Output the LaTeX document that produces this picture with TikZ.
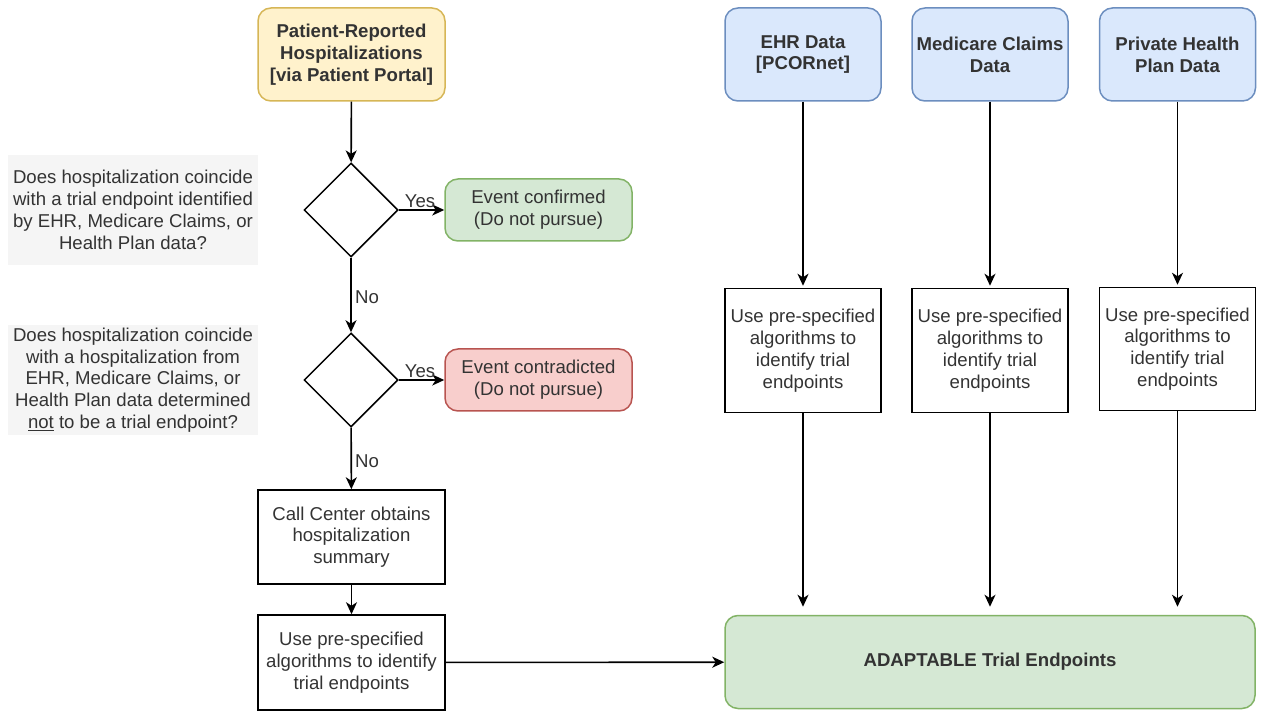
\documentclass[tikz,border=0pt]{standalone}
\usepackage{fontspec}
\setmainfont{Liberation Sans}
\usetikzlibrary{shapes.geometric,arrows.meta}
\definecolor{yelfill}{HTML}{FFF2CC}\definecolor{yeldraw}{HTML}{D6B656}
\definecolor{grnfill}{HTML}{D5E8D4}\definecolor{grndraw}{HTML}{82B366}
\definecolor{redfill}{HTML}{F8CECC}\definecolor{reddraw}{HTML}{B85450}
\definecolor{blufill}{HTML}{DAE8FC}\definecolor{bludraw}{HTML}{6C8EBF}
\definecolor{grayfill}{HTML}{F5F5F5}\definecolor{txt}{HTML}{333333}
\newcommand{\diafont}{\fontsize{18.6}{21.8}\selectfont}
\tikzset{
  base/.style={font=\diafont, text=txt, align=center, inner sep=0pt, line width=1.5pt},
  rbox/.style={base, draw, rounded corners=13pt, minimum width=#1},
  yelbox/.style={rbox=187pt, minimum height=93pt, fill=yelfill, draw=yeldraw, font=\diafont\bfseries},
  blubox/.style={rbox=156pt, minimum height=93pt, fill=blufill, draw=bludraw, font=\diafont\bfseries},
  grnbox/.style={rbox=187pt, minimum height=62pt, fill=grnfill, draw=grndraw},
  redbox/.style={rbox=187pt, minimum height=62pt, fill=redfill, draw=reddraw},
  plainbox/.style={base, draw=black, minimum width=#1},
  question/.style={base, fill=grayfill, minimum width=250pt, minimum height=110pt},
  decision/.style={base, draw=black, shape=diamond, minimum width=94pt, minimum height=94pt},
  arr/.style={-{Stealth[length=12pt,width=11pt,inset=3.5pt]}, line width=1.6pt, black},
  lbl/.style={font=\diafont, text=txt, inner sep=0pt}
}
\begin{document}
\begin{tikzpicture}[x=1pt,y=-1pt]
\useasboundingbox (0,0) rectangle (1262,711);
% left column
\node[yelbox] (pat) at (351.5,54.5) {Patient-Reported\\Hospitalizations\\{[}via Patient Portal{]}};
\node[decision] (d1) at (351,210) {};
\node[question] (q1) at (133,210) {Does hospitalization coincide\\with a trial endpoint identified\\by EHR, Medicare Claims, or\\Health Plan data?};
\node[grnbox] (conf) at (538.5,210) {Event confirmed\\(Do not pursue)};
\node[decision] (d2) at (351,380) {};
\node[question] (q2) at (133,380) {Does hospitalization coincide\\with a hospitalization from\\EHR, Medicare Claims, or\\Health Plan data determined\\\underline{not} to be a trial endpoint?};
\node[redbox] (contr) at (538.5,380) {Event contradicted\\(Do not pursue)};
\node[plainbox=187pt, minimum height=94pt] (call) at (351.5,537) {Call Center obtains\\hospitalization\\summary};
\node[plainbox=187pt, minimum height=95pt] (usel) at (351.5,662.5) {Use pre-specified\\algorithms to identify\\trial endpoints};
% right side
\node[blubox] (ehr) at (803,54.5) {EHR Data\\{[}PCORnet{]}};
\node[blubox] (med) at (990,54.5) {Medicare Claims\\Data};
\node[blubox] (priv) at (1177.5,54.5) {Private Health\\Plan Data};
\node[plainbox=156pt, minimum height=124pt] (use1) at (803,350.5) {Use pre-specified\\algorithms to\\identify trial\\endpoints};
\node[plainbox=156pt, minimum height=124pt] (use2) at (990,350.5) {Use pre-specified\\algorithms to\\identify trial\\endpoints};
\node[plainbox=156pt, minimum height=123pt] (use3) at (1177.5,349) {Use pre-specified\\algorithms to\\identify trial\\endpoints};
\node[rbox=530pt, minimum height=93pt, fill=grnfill, draw=grndraw, font=\diafont\bfseries] (adapt) at (990,662) {ADAPTABLE Trial Endpoints};
% connectors
\draw[arr] (pat) -- (d1);
\draw[arr] (d1) -- (conf);
\node[lbl] (yes1) at (420,201) {Yes};
\draw[arr] (d1) -- (d2);
\node[lbl, anchor=west] (no1) at (355,297) {No};
\draw[arr] (d2) -- (contr);
\node[lbl] (yes2) at (420,371) {Yes};
\draw[arr] (d2) -- (call);
\node[lbl, anchor=west] (no2) at (355,461) {No};
\draw[arr] (call) -- (usel);
\draw[arr] (usel) -- (adapt);
\foreach \s/\u in {ehr/use1, med/use2, priv/use3}{
  \draw[arr, shorten >=2pt] (\s) -- (\u);
  \draw[arr, shorten >=8pt] (\u.south) -- (\u.south |- adapt.north);
}
\end{tikzpicture}
\end{document}
